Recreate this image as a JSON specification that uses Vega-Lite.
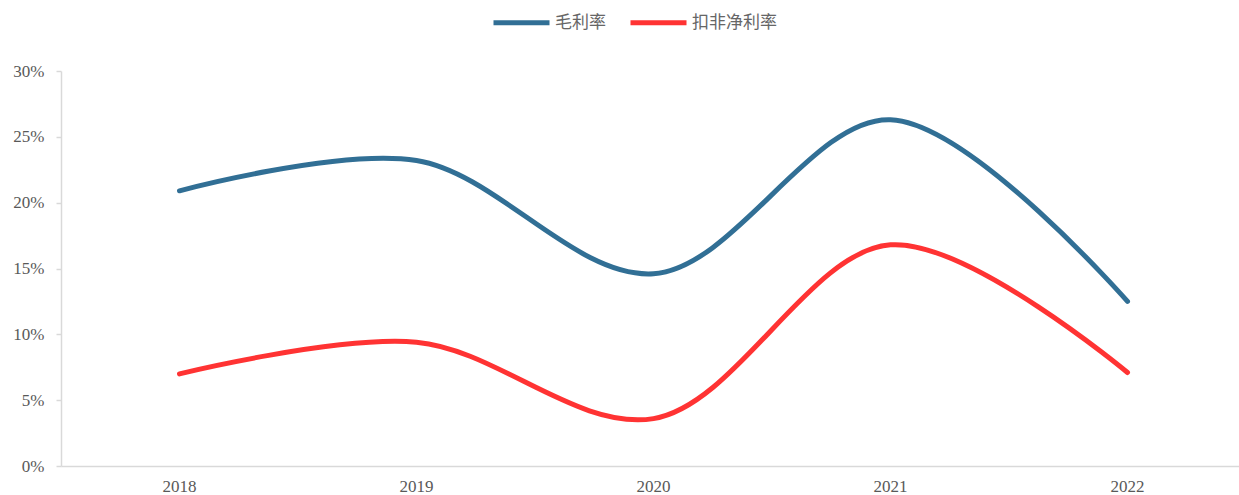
{
  "$schema": "https://vega.github.io/schema/vega-lite/v6.json",
  "width": 1185,
  "height": 395,
  "autosize": {"type": "none"},
  "padding": {"left": 61, "top": 71, "right": 0, "bottom": 29},
  "background": "white",
  "config": {"view": {"stroke": null}},
  "data": {
    "values": [
      {"year": "2018", "series": "毛利率", "value": 0.209},
      {"year": "2019", "series": "毛利率", "value": 0.232},
      {"year": "2020", "series": "毛利率", "value": 0.146},
      {"year": "2021", "series": "毛利率", "value": 0.263},
      {"year": "2022", "series": "毛利率", "value": 0.125},
      {"year": "2018", "series": "扣非净利率", "value": 0.070},
      {"year": "2019", "series": "扣非净利率", "value": 0.094},
      {"year": "2020", "series": "扣非净利率", "value": 0.036},
      {"year": "2021", "series": "扣非净利率", "value": 0.168},
      {"year": "2022", "series": "扣非净利率", "value": 0.071}
    ]
  },
  "mark": {"type": "line", "interpolate": "catmull-rom", "strokeWidth": 5, "strokeCap": "round"},
  "encoding": {
    "x": {
      "field": "year", "type": "ordinal",
      "scale": {"type": "band", "paddingInner": 0, "paddingOuter": 0},
      "axis": {
        "title": null, "labelAngle": 0, "ticks": false,
        "domainColor": "#d9d9d9", "domainWidth": 1.5,
        "labelFont": "Liberation Serif", "labelFontSize": 17, "labelColor": "#595959",
        "labelPadding": 12, "grid": false
      }
    },
    "y": {
      "field": "value", "type": "quantitative",
      "scale": {"domain": [0, 0.3], "nice": false},
      "axis": {
        "title": null, "values": [0, 0.05, 0.1, 0.15, 0.2, 0.25, 0.3], "format": ".0%",
        "grid": false, "domainColor": "#d9d9d9", "domainWidth": 1.5,
        "tickColor": "#d9d9d9", "tickSize": 5, "tickWidth": 1.5,
        "labelFont": "Liberation Serif", "labelFontSize": 17, "labelColor": "#595959",
        "labelPadding": 12
      }
    },
    "color": {
      "field": "series", "type": "nominal",
      "scale": {"domain": ["毛利率", "扣非净利率"], "range": ["#316f95", "#ff3333"]},
      "legend": {
        "title": null, "orient": "none", "direction": "horizontal",
        "legendX": 430, "legendY": -79,
        "symbolType": "stroke", "symbolSize": 3136, "symbolStrokeWidth": 5,
        "labelFont": "Noto Sans CJK SC", "labelFontSize": 17, "labelColor": "#666666",
        "columnPadding": 14, "labelOffset": 3
      }
    }
  }
}
